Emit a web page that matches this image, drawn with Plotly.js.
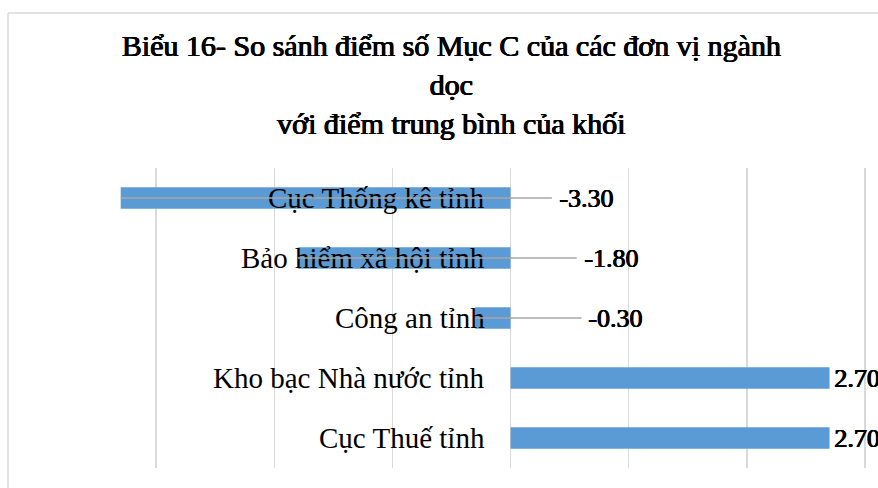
<!DOCTYPE html>
<html>
<head>
<meta charset="utf-8">
<script src="https://cdn.plot.ly/plotly-3.0.1.min.js"></script>
<style>
  html, body { margin: 0; padding: 0; background: #fff; }
  #chart { width: 878px; height: 488px; }
</style>
</head>
<body>
<div id="chart"></div>
<script>
// đơn vị ngành dọc, from top to bottom
const units = ['Cục Thống kê tỉnh', 'Bảo hiểm xã hội tỉnh', 'Công an tỉnh', 'Kho bạc Nhà nước tỉnh', 'Cục Thuế tỉnh'];
const diffs = [-3.30, -1.80, -0.30, 2.70, 2.70];

// where Excel moved the negative labels to (axis units, right of zero)
const labelAt = [0.35, 0.56, 0.60, null, null];

const W = 878, H = 488;
const mL = 38, mR = 0, mT = 168, mB = 20;
const plotW = W - mL - mR, plotH = H - mT - mB;

const serif = 'Liberation Serif';
// no bold serif face installed, so thicken the regular one with a tight shadow
const fauxBold = '0.9px 0 0 #000, 0.45px 0 0 #000, 0 0.4px 0 #000';
const gridCol = '#d9d9d9';

let bars = {
  type: 'bar',
  orientation: 'h',
  x: diffs,
  y: units,
  marker: { color: '#5b9bd5' },
  hoverinfo: 'skip'
};

let annotations = [];

// category names sit just left of the zero line
units.forEach(function (u) {
  annotations.push({
    x: 0, y: u, xref: 'x', yref: 'y',
    text: u,
    showarrow: false,
    xanchor: 'right',
    xshift: -24,
    font: { family: serif, size: 29, color: '#000' }
  });
});

// value labels; negatives get a leader line back to the bar
diffs.forEach(function (v, i) {
  let a = {
    x: v, y: units[i], xref: 'x', yref: 'y',
    text: v.toFixed(2),
    xanchor: 'left',
    font: { family: serif, size: 26, color: '#000', shadow: fauxBold }
  };
  if (v < 0) {
    a.showarrow = true;
    a.axref = 'x';
    a.ayref = 'y';
    a.ax = labelAt[i];
    a.ay = units[i];
    a.arrowhead = 0;
    a.arrowwidth = 1.5;
    a.arrowcolor = '#a6a6a6';
    a.borderpad = 6;
  } else {
    a.showarrow = false;
    a.xshift = 2;
  }
  annotations.push(a);
});

// chart-area border (top and left edges are all that show)
const px2x = function (p) { return (p - mL) / plotW; };
const px2y = function (p) { return (H - mB - p) / plotH; };
let shapes = [
  { type: 'line', xref: 'paper', yref: 'paper', x0: px2x(8), x1: px2x(W), y0: px2y(13), y1: px2y(13),
    line: { color: gridCol, width: 1.5 } },
  { type: 'line', xref: 'paper', yref: 'paper', x0: px2x(8), x1: px2x(8), y0: px2y(13), y1: px2y(H),
    line: { color: gridCol, width: 1.5 } }
];

let layout = {
  width: W,
  height: H,
  margin: { l: mL, r: mR, t: mT, b: mB },
  paper_bgcolor: '#fff',
  plot_bgcolor: '#fff',
  showlegend: false,
  bargap: 0.64,
  title: {
    text: 'Biểu 16- So sánh điểm số Mục C của các đơn vị ngành<br>dọc<br>với điểm trung bình của khối',
    font: { family: serif, size: 30, color: '#000', shadow: fauxBold },
    xref: 'container', x: 451 / W, xanchor: 'center',
    yref: 'container', y: 1 - 56 / H, yanchor: 'top'
  },
  xaxis: {
    range: [-4, -4 + 7 * plotW / 827],
    dtick: 1,
    showticklabels: false,
    ticks: '',
    showgrid: true,
    gridcolor: gridCol,
    gridwidth: 1.5,
    zeroline: true,
    zerolinecolor: gridCol,
    zerolinewidth: 1.5,
    showline: false,
    fixedrange: true
  },
  yaxis: {
    type: 'category',
    autorange: 'reversed',
    showticklabels: false,
    ticks: '',
    showgrid: false,
    zeroline: false,
    showline: false,
    fixedrange: true
  },
  annotations: annotations,
  shapes: shapes
};

Plotly.newPlot('chart', [bars], layout, { displayModeBar: false, staticPlot: true });
</script>
</body>
</html>
